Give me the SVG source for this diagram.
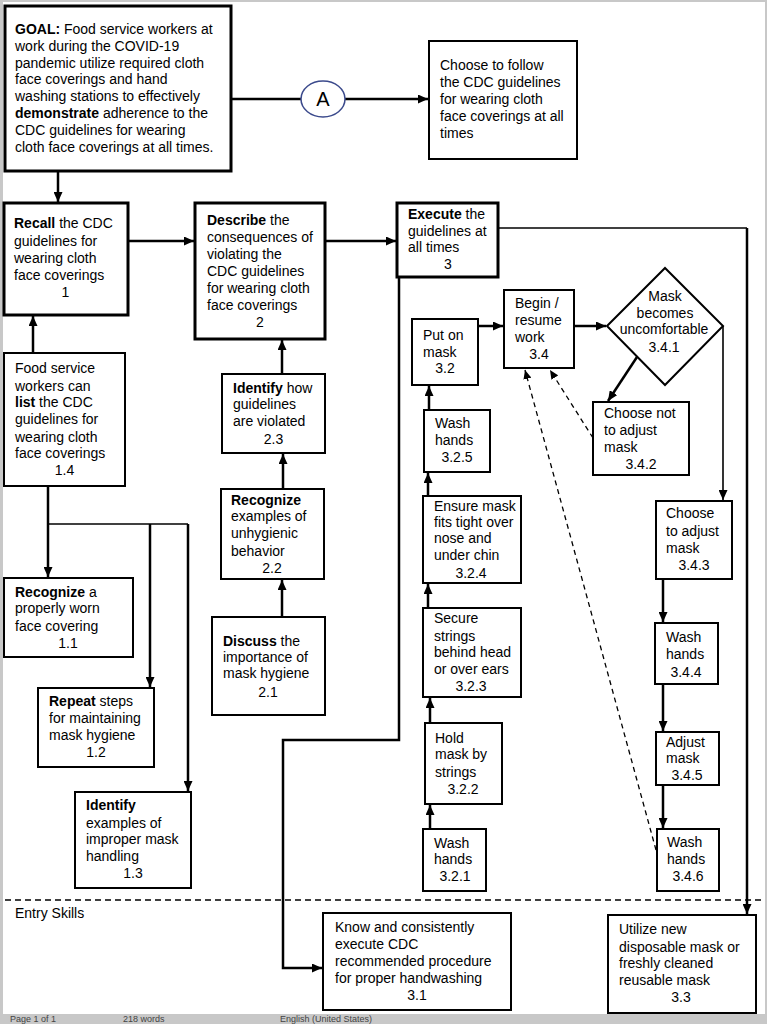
<svg xmlns="http://www.w3.org/2000/svg" width="767" height="1024" viewBox="0 0 767 1024">
<style>
.box{fill:#fff;stroke:#000;stroke-width:2}
.thick{stroke-width:3}
.t{font-family:"Liberation Sans",Arial,sans-serif;font-size:14px;fill:#000}
.c{text-anchor:middle}
.b{font-weight:bold}
.ln{fill:none;stroke:#000;stroke-width:2.5}
.thin{stroke-width:1.6}
.dash{fill:none;stroke:#000;stroke-width:1.3;stroke-dasharray:5,4}
.status{font-family:"Liberation Sans",Arial,sans-serif;font-size:9px;fill:#444}
</style>
<defs>
<marker id="ah" markerUnits="userSpaceOnUse" markerWidth="10" markerHeight="9" refX="10" refY="4.5" orient="auto">
<path d="M0,0 L10,4.5 L0,9 z" fill="#000"/>
</marker>
<marker id="ahs" markerUnits="userSpaceOnUse" markerWidth="9" markerHeight="8" refX="9" refY="4" orient="auto">
<path d="M0,0 L9,4 L0,8 z" fill="#000"/>
</marker>
</defs>
<rect x="0" y="0" width="767" height="1024" fill="#c8c8c8"/>
<rect x="3" y="2" width="762" height="1012" fill="#fff"/>
<g id="statusbar">
<text x="10" y="1022" class="status">Page 1 of 1</text>
<text x="123" y="1022" class="status">218 words</text>
<text x="280" y="1022" class="status">English (United States)</text>
</g>

<line x1="5" y1="900" x2="765" y2="900" stroke="#000" stroke-width="1.3" stroke-dasharray="6,4"/>
<text class="t" x="15" y="918">Entry Skills</text>

<g id="connectors">
<line class="ln" x1="231" y1="99" x2="301" y2="99"/>
<line class="ln" x1="345" y1="99" x2="428" y2="99" marker-end="url(#ah)"/>
<line class="ln" x1="58" y1="171" x2="58" y2="202" marker-end="url(#ah)"/>
<line class="ln" x1="128" y1="241" x2="194" y2="241" marker-end="url(#ah)"/>
<line class="ln" x1="325" y1="241" x2="396" y2="241" marker-end="url(#ah)"/>
<path class="ln thin" d="M498,228 H747"/>
<path class="ln" d="M747,228 V914" marker-end="url(#ah)"/>
<path class="ln" d="M399,277 V740 H283 V968 H322" marker-end="url(#ah)"/>
<line class="ln" x1="478" y1="326" x2="503" y2="326" marker-end="url(#ah)"/>
<line class="ln" x1="574" y1="326" x2="606" y2="326" marker-end="url(#ah)"/>
<line class="ln" x1="637" y1="357" x2="608" y2="401" marker-end="url(#ah)"/>
<path class="ln thin" d="M723,326 V500" marker-end="url(#ah)"/>
<line class="dash" x1="593" y1="438" x2="550" y2="370" marker-end="url(#ahs)"/>
<line class="dash" x1="656" y1="850" x2="525" y2="370" marker-end="url(#ahs)"/>
<line class="ln" x1="663" y1="579" x2="663" y2="622" marker-end="url(#ah)"/>
<line class="ln" x1="663" y1="684" x2="663" y2="731" marker-end="url(#ah)"/>
<line class="ln" x1="663" y1="785" x2="663" y2="828" marker-end="url(#ah)"/>
<line class="ln" x1="430" y1="829" x2="430" y2="805" marker-end="url(#ah)"/>
<line class="ln" x1="430" y1="723" x2="430" y2="698" marker-end="url(#ah)"/>
<line class="ln" x1="428" y1="608" x2="428" y2="584" marker-end="url(#ah)"/>
<line class="ln" x1="428" y1="496" x2="428" y2="473" marker-end="url(#ah)"/>
<line class="ln" x1="429" y1="410" x2="429" y2="386" marker-end="url(#ah)"/>
<line class="ln" x1="282" y1="617" x2="282" y2="580" marker-end="url(#ah)"/>
<line class="ln" x1="283" y1="489" x2="283" y2="454" marker-end="url(#ah)"/>
<line class="ln" x1="282" y1="374" x2="282" y2="340" marker-end="url(#ah)"/>
<line class="ln" x1="33" y1="353" x2="33" y2="316" marker-end="url(#ah)"/>
<line class="ln" x1="48" y1="486" x2="48" y2="577" marker-end="url(#ah)"/>
<path class="ln thin" d="M48,524 H188"/>
<path class="ln" d="M188,524 V791" marker-end="url(#ah)"/>
<path class="ln" d="M150,524 V687" marker-end="url(#ah)"/>
</g>

<g id="connectorA">
<ellipse cx="323" cy="99" rx="22" ry="18" fill="#fff" stroke="#3b4a8c" stroke-width="1.5"/>
<text x="323" y="106" font-family="Liberation Sans, Arial, sans-serif" font-size="20" text-anchor="middle">A</text>
</g>

<g id="goal">
<rect class="box thick" x="5" y="6" width="226" height="165"/>
<text class="t" x="15" y="34"><tspan class="b">GOAL:</tspan> Food service workers at</text>
<text class="t" x="15" y="50.8">work during the COVID-19</text>
<text class="t" x="15" y="67.6">pandemic utilize required cloth</text>
<text class="t" x="15" y="84.4">face coverings and hand</text>
<text class="t" x="15" y="101.2">washing stations to effectively</text>
<text class="t" x="15" y="118"><tspan class="b">demonstrate</tspan> adherence to the</text>
<text class="t" x="15" y="134.8">CDC guidelines for wearing</text>
<text class="t" x="15" y="151.6">cloth face coverings at all times.</text>
</g>

<g id="choose-follow">
<rect class="box" x="429" y="41" width="148" height="118"/>
<text class="t" x="440" y="70">Choose to follow</text>
<text class="t" x="440" y="87">the CDC guidelines</text>
<text class="t" x="440" y="104">for wearing cloth</text>
<text class="t" x="440" y="121">face coverings at all</text>
<text class="t" x="440" y="138">times</text>
</g>

<g id="n1">
<rect class="box thick" x="4" y="203" width="124" height="112"/>
<text class="t" x="14" y="228"><tspan class="b">Recall</tspan> the CDC</text>
<text class="t" x="14" y="245.5">guidelines for</text>
<text class="t" x="14" y="263">wearing cloth</text>
<text class="t" x="14" y="280">face coverings</text>
<text class="t c" x="65.5" y="297">1</text>
</g>

<g id="n2">
<rect class="box thick" x="195" y="203" width="130" height="136"/>
<text class="t" x="207" y="225"><tspan class="b">Describe</tspan> the</text>
<text class="t" x="207" y="242">consequences of</text>
<text class="t" x="207" y="259">violating the</text>
<text class="t" x="207" y="276">CDC guidelines</text>
<text class="t" x="207" y="293">for wearing cloth</text>
<text class="t" x="207" y="310">face coverings</text>
<text class="t c" x="260" y="327">2</text>
</g>

<g id="n3">
<rect class="box thick" x="397" y="203" width="101" height="74"/>
<text class="t" x="408" y="219"><tspan class="b">Execute</tspan> the</text>
<text class="t" x="408" y="236">guidelines at</text>
<text class="t" x="408" y="252">all times</text>
<text class="t c" x="448" y="269">3</text>
</g>

<g id="n3-2">
<rect class="box" x="412" y="319" width="66" height="66"/>
<text class="t" x="423" y="340">Put on</text>
<text class="t" x="423" y="357">mask</text>
<text class="t c" x="445" y="373">3.2</text>
</g>

<g id="n3-4">
<rect class="box" x="504" y="290" width="70" height="78"/>
<text class="t" x="515" y="308">Begin /</text>
<text class="t" x="515" y="325">resume</text>
<text class="t" x="515" y="342">work</text>
<text class="t c" x="539" y="359">3.4</text>
</g>

<g id="n3-4-1">
<polygon class="box" points="607,326 665,268 723,326 665,385"/>
<text class="t c" x="665" y="301">Mask</text>
<text class="t c" x="665" y="318">becomes</text>
<text class="t c" x="664" y="334">uncomfortable</text>
<text class="t c" x="664" y="352">3.4.1</text>
</g>

<g id="n3-4-2">
<rect class="box" x="593" y="402" width="96" height="73"/>
<text class="t" x="604" y="418">Choose not</text>
<text class="t" x="604" y="435">to adjust</text>
<text class="t" x="604" y="452">mask</text>
<text class="t c" x="641" y="469">3.4.2</text>
</g>

<g id="n3-4-3">
<rect class="box" x="656" y="501" width="76" height="78"/>
<text class="t" x="666" y="518">Choose</text>
<text class="t" x="666" y="536">to adjust</text>
<text class="t" x="666" y="553">mask</text>
<text class="t c" x="694" y="570">3.4.3</text>
</g>

<g id="n3-4-4">
<rect class="box" x="655" y="623" width="63" height="61"/>
<text class="t" x="666" y="642">Wash</text>
<text class="t" x="666" y="659">hands</text>
<text class="t c" x="686" y="677">3.4.4</text>
</g>

<g id="n3-4-5">
<rect class="box" x="656" y="732" width="63" height="53"/>
<text class="t" x="666" y="747">Adjust</text>
<text class="t" x="666" y="763">mask</text>
<text class="t c" x="687" y="780">3.4.5</text>
</g>

<g id="n3-4-6">
<rect class="box" x="657" y="829" width="62" height="62"/>
<text class="t" x="667" y="847">Wash</text>
<text class="t" x="667" y="864">hands</text>
<text class="t c" x="688" y="881">3.4.6</text>
</g>

<g id="n3-2-5">
<rect class="box" x="424" y="410" width="66" height="62"/>
<text class="t" x="435" y="428">Wash</text>
<text class="t" x="435" y="445">hands</text>
<text class="t c" x="457" y="462">3.2.5</text>
</g>

<g id="n3-2-4">
<rect class="box" x="423" y="496" width="98" height="87"/>
<text class="t" x="434" y="511">Ensure mask</text>
<text class="t" x="434" y="527">fits tight over</text>
<text class="t" x="434" y="543">nose and</text>
<text class="t" x="434" y="560">under chin</text>
<text class="t c" x="471" y="578">3.2.4</text>
</g>

<g id="n3-2-3">
<rect class="box" x="423" y="608" width="98" height="89"/>
<text class="t" x="434" y="623">Secure</text>
<text class="t" x="434" y="641">strings</text>
<text class="t" x="434" y="657">behind head</text>
<text class="t" x="434" y="674">or over ears</text>
<text class="t c" x="471" y="691">3.2.3</text>
</g>

<g id="n3-2-2">
<rect class="box" x="425" y="723" width="77" height="81"/>
<text class="t" x="435" y="743">Hold</text>
<text class="t" x="435" y="759">mask by</text>
<text class="t" x="435" y="777">strings</text>
<text class="t c" x="463" y="794">3.2.2</text>
</g>

<g id="n3-2-1">
<rect class="box" x="423" y="829" width="63" height="62"/>
<text class="t" x="434" y="848">Wash</text>
<text class="t" x="434" y="864">hands</text>
<text class="t c" x="455" y="881">3.2.1</text>
</g>

<g id="n3-1">
<rect class="box" x="323" y="913" width="188" height="97"/>
<text class="t" x="335" y="932">Know and consistently</text>
<text class="t" x="335" y="949">execute CDC</text>
<text class="t" x="335" y="966">recommended procedure</text>
<text class="t" x="335" y="983">for proper handwashing</text>
<text class="t c" x="417" y="1000">3.1</text>
</g>

<g id="n3-3">
<rect class="box" x="608" y="915" width="148" height="98"/>
<text class="t" x="619" y="934">Utilize new</text>
<text class="t" x="619" y="952">disposable mask or</text>
<text class="t" x="619" y="968">freshly cleaned</text>
<text class="t" x="619" y="985">reusable mask</text>
<text class="t c" x="681" y="1002">3.3</text>
</g>

<g id="n2-3">
<rect class="box" x="222" y="374" width="103" height="79"/>
<text class="t" x="233" y="393"><tspan class="b">Identify</tspan> how</text>
<text class="t" x="233" y="409">guidelines</text>
<text class="t" x="233" y="426">are violated</text>
<text class="t c" x="273.5" y="444">2.3</text>
</g>

<g id="n2-2">
<rect class="box" x="221" y="489" width="103" height="90"/>
<text class="t b" x="231" y="505">Recognize</text>
<text class="t" x="231" y="521">examples of</text>
<text class="t" x="231" y="538">unhygienic</text>
<text class="t" x="231" y="556">behavior</text>
<text class="t c" x="272" y="573">2.2</text>
</g>

<g id="n2-1">
<rect class="box" x="212" y="617" width="113" height="98"/>
<text class="t" x="223" y="646"><tspan class="b">Discuss</tspan> the</text>
<text class="t" x="223" y="662">importance of</text>
<text class="t" x="223" y="678">mask hygiene</text>
<text class="t c" x="268" y="697">2.1</text>
</g>

<g id="n1-4">
<rect class="box" x="4" y="353" width="121" height="133"/>
<text class="t" x="15" y="373">Food service</text>
<text class="t" x="15" y="391">workers can</text>
<text class="t" x="15" y="407"><tspan class="b">list</tspan> the CDC</text>
<text class="t" x="15" y="424">guidelines for</text>
<text class="t" x="15" y="442">wearing cloth</text>
<text class="t" x="15" y="458">face coverings</text>
<text class="t c" x="64.5" y="475">1.4</text>
</g>

<g id="n1-1">
<rect class="box" x="4" y="578" width="129" height="79"/>
<text class="t" x="15" y="597"><tspan class="b">Recognize</tspan> a</text>
<text class="t" x="15" y="613">properly worn</text>
<text class="t" x="15" y="631">face covering</text>
<text class="t c" x="68" y="648">1.1</text>
</g>

<g id="n1-2">
<rect class="box" x="38" y="688" width="116" height="79"/>
<text class="t" x="49" y="706"><tspan class="b">Repeat</tspan> steps</text>
<text class="t" x="49" y="723">for maintaining</text>
<text class="t" x="49" y="740">mask hygiene</text>
<text class="t c" x="96" y="757">1.2</text>
</g>

<g id="n1-3">
<rect class="box" x="75" y="792" width="116" height="96"/>
<text class="t b" x="86" y="810">Identify</text>
<text class="t" x="86" y="828">examples of</text>
<text class="t" x="86" y="844">improper mask</text>
<text class="t" x="86" y="861">handling</text>
<text class="t c" x="133" y="878">1.3</text>
</g>
</svg>
